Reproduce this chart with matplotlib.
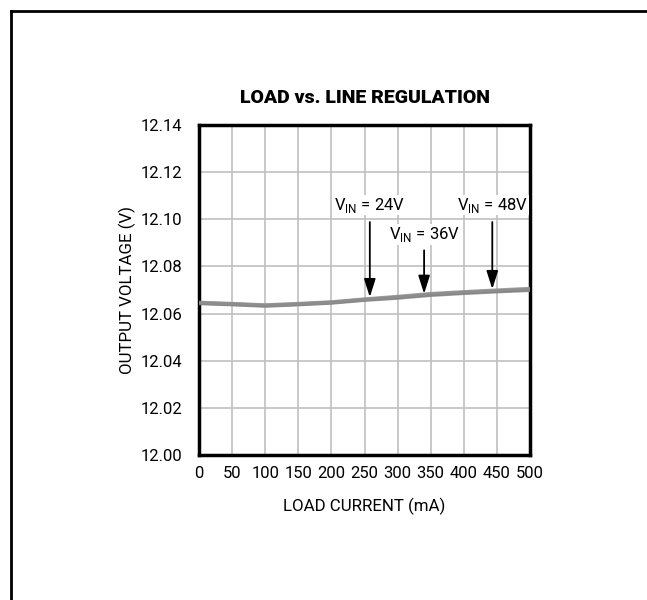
import matplotlib
matplotlib.use("Agg")
import matplotlib.pyplot as plt
from matplotlib.lines import Line2D

# load current (mA) and output voltage (V)
load_ma = [0, 50, 100, 150, 200, 250, 300, 350, 400, 450, 500]
vout_24 = [12.0643, 12.0638, 12.0632, 12.0638, 12.0645, 12.0657, 12.0666, 12.0678, 12.0686, 12.0693, 12.0699]
vout_36 = [12.0645, 12.0640, 12.0634, 12.0640, 12.0647, 12.0659, 12.0669, 12.0681, 12.0689, 12.0696, 12.0702]
vout_48 = [12.0647, 12.0642, 12.0636, 12.0642, 12.0649, 12.0661, 12.0672, 12.0684, 12.0692, 12.0699, 12.0706]

# arrow annotations: (label subscript text, arrow x, arrow tail y, arrow tip y, text y)
notes = [
    ("24V", 258, 12.100, 12.0658, 12.106),
    ("36V", 340, 12.088, 12.0672, 12.0935),
    ("48V", 443, 12.100, 12.0692, 12.106),
]

xticks = list(range(0, 501, 50))
yticks = [12.00, 12.02, 12.04, 12.06, 12.08, 12.10, 12.12, 12.14]

plt.rcParams['font.family'] = ['Roboto', 'DejaVu Sans']
plt.rcParams['mathtext.fontset'] = 'custom'
plt.rcParams['mathtext.rm'] = 'Roboto'

fig = plt.figure(figsize=(6.47, 6.0), dpi=100)
ax = fig.add_axes([0.3076, 0.2417, 0.5116, 0.55])

for v, c in zip((vout_24, vout_36, vout_48), ('#8a8a8a', '#7a7a7a', '#909090')):
    ax.plot(load_ma, v, color=c, lw=2.6, alpha=0.85, solid_capstyle='butt', zorder=3)

for lab, xa, y0, y1, yt in notes:
    ax.annotate('', xy=(xa, y1), xytext=(xa, y0),
                arrowprops=dict(arrowstyle='-|>,head_length=1.1,head_width=0.35', color='black', lw=1.3),
                zorder=4)
    ax.text(xa, yt, r'V$_{\mathregular{IN}}$ = ' + lab, ha='center', va='center', fontsize=12,
            bbox=dict(facecolor='white', edgecolor='none', pad=0.5), zorder=5)

ax.set_xlim(0, 500)
ax.set_ylim(12.00, 12.14)
ax.set_xticks(xticks)
ax.set_yticks(yticks)
ax.set_yticklabels(['%.2f' % t for t in yticks])
ax.grid(True, color='#c0c0c0', lw=1.2)
ax.set_axisbelow(True)
ax.tick_params(length=0, labelsize=12)
ax.tick_params(axis='y', pad=12)
ax.tick_params(axis='x', pad=8)
for s in ax.spines.values():
    s.set_linewidth(2.5)
    s.set_color('black')

ax.set_xlabel('LOAD CURRENT (mA)', fontsize=12.2, labelpad=12)
ax.set_ylabel('OUTPUT VOLTAGE (V)', fontsize=12.2, labelpad=3)
ax.set_title('LOAD vs. LINE REGULATION', fontsize=14, fontweight='black', pad=16)

# outer frame (only top and left edges visible)
fig.add_artist(Line2D([11/647, 11/647], [0, 1 - 11/600], color='black', lw=2, transform=fig.transFigure))
fig.add_artist(Line2D([11/647, 1], [1 - 11/600, 1 - 11/600], color='black', lw=2, transform=fig.transFigure))

fig.savefig('out.png', dpi=100)
